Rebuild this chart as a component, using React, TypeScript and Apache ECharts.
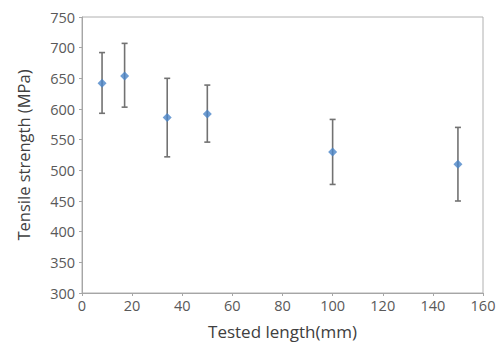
import React, { useEffect, useRef } from "react";
import * as echarts from "echarts";

const lengths = [8, 17, 34, 50, 100, 150];
const strength = [642, 654, 586, 592, 530, 510];
const errLow = [593, 603, 522, 546, 477, 450];
const errHigh = [692, 707, 650, 639, 583, 570];
const xTicks = [0, 20, 40, 60, 80, 100, 120, 140, 160];

export default function App() {
  const ref = useRef<HTMLDivElement>(null);
  useEffect(() => {
    if (!ref.current) return;
    const chart = echarts.init(ref.current, null, { renderer: "svg" });
    const font = "'Open Sans', 'Liberation Sans', sans-serif";
    chart.setOption({
      animation: false,
      backgroundColor: "#ffffff",
      grid: {
        left: 82,
        right: 19,
        top: 17,
        bottom: 52,
        show: true,
        borderColor: "#b0b0b0",
        borderWidth: 1,
      },
      xAxis: {
        type: "value",
        min: xTicks[0],
        max: xTicks[xTicks.length - 1],
        interval: 20,
        name: "Tested length(mm)",
        nameLocation: "middle",
        nameGap: 30,
        nameTextStyle: { fontFamily: font, fontSize: 17, color: "#404040" },
        axisLine: { show: true, lineStyle: { color: "#a6a6a6" } },
        axisTick: { show: true, length: 3, lineStyle: { color: "#a6a6a6" } },
        axisLabel: { fontFamily: font, fontSize: 14.5, color: "#595959", margin: 5 },
        splitLine: { show: false },
      },
      yAxis: {
        type: "value",
        min: 300,
        max: 750,
        interval: 50,
        name: "Tensile strength (MPa)",
        nameLocation: "middle",
        nameGap: 50,
        nameTextStyle: { fontFamily: font, fontSize: 16.5, color: "#404040" },
        axisLine: { show: true, lineStyle: { color: "#a6a6a6" } },
        axisTick: { show: true, length: 3, lineStyle: { color: "#a6a6a6" } },
        axisLabel: { fontFamily: font, fontSize: 14.5, color: "#595959", margin: 7 },
        splitLine: { show: false },
      },
      series: [
        {
          type: "custom",
          data: lengths.map((x, i) => [x, errLow[i], errHigh[i]]),
          renderItem: (params: any, api: any) => {
            const x = api.value(0);
            const lo = api.coord([x, api.value(1)]);
            const hi = api.coord([x, api.value(2)]);
            const cap = 3;
            const style = { stroke: "#727272", lineWidth: 1.6 };
            return {
              type: "group",
              children: [
                { type: "line", shape: { x1: lo[0], y1: lo[1], x2: hi[0], y2: hi[1] }, style },
                { type: "line", shape: { x1: lo[0] - cap, y1: lo[1], x2: lo[0] + cap, y2: lo[1] }, style },
                { type: "line", shape: { x1: hi[0] - cap, y1: hi[1], x2: hi[0] + cap, y2: hi[1] }, style },
              ],
            };
          },
          z: 1,
        },
        {
          type: "scatter",
          data: lengths.map((x, i) => [x, strength[i]]),
          symbol: "diamond",
          symbolSize: [9, 9],
          itemStyle: { color: "#4a84c8" },
          z: 2,
        },
      ],
    });
    return () => chart.dispose();
  }, []);
  return <div ref={ref} style={{ width: 502, height: 345, position: "absolute", left: 0, top: 0 }} />;
}
